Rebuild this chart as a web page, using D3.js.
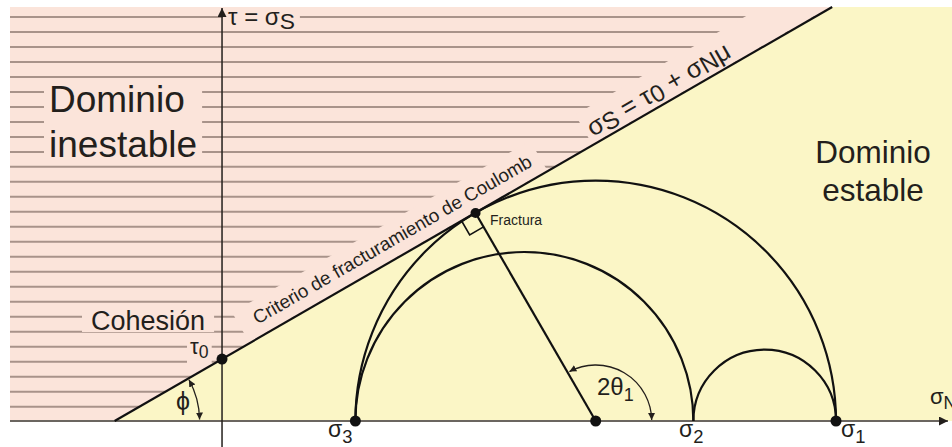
<!DOCTYPE html>
<html>
<head>
<meta charset="utf-8">
<script src="https://cdn.jsdelivr.net/npm/d3@7"></script>
<style>
  body { margin: 0; background: #ffffff; }
  svg { display: block; }
  text { font-family: "Liberation Sans", Arial, Helvetica, sans-serif; fill: #231f1c; }
</style>
</head>
<body>
<svg id="chart" width="952" height="447"></svg>
<script>
// ---- Mohr–Coulomb diagram data (arbitrary stress units) ----
const stressNames = ["σ", "σ", "σ"];
const stressSubs = ["3", "2", "1"];
const stressValues = [2.15, 7.6, 9.9];          // σ3, σ2, σ1
const circlePairs = [[0, 2], [0, 1], [1, 2]];    // Mohr circles as index pairs
const cohesion = [1.0];                          // τ0
const frictionAngleDeg = [30];                   // φ
const sigmaDomain = [-3.58, 11.77];
const tauDomain = [0, 6.68];
const hatchTau = d3.range(27).map(i => 0.23 + i * 0.2419);

const W = 952, H = 447;
const svg = d3.select("#chart");
const x = d3.scaleLinear().domain(sigmaDomain).range([0, W]);
const y = d3.scaleLinear().domain(tauDomain).range([421, 7]);

const pink = "#fbe4da", yellow = "#fbf6c6", hatchColor = "#a8938a";
const tau0 = cohesion[0];
const phi = frictionAngleDeg[0] * Math.PI / 180;
const mu = Math.tan(phi);
const sigmaAt = t => (t - tau0) / mu;
const tauTop = tauDomain[1];
const left = 10;

// background domains
const pinkPoly = [[left, y(tauTop)], [x(sigmaAt(tauTop)), y(tauTop)], [x(sigmaAt(0)), y(0)], [left, y(0)]];
const yellowPoly = [[x(sigmaAt(tauTop)), y(tauTop)], [W, y(tauTop)], [W, y(0)], [x(sigmaAt(0)), y(0)]];
svg.append("path").attr("d", "M" + pinkPoly.join("L") + "Z").attr("fill", pink);
svg.append("path").attr("d", "M" + yellowPoly.join("L") + "Z").attr("fill", yellow);

const defs = svg.append("defs");
defs.append("clipPath").attr("id", "unstable")
  .append("path").attr("d", "M" + pinkPoly.join("L") + "Z");

// hatching of the unstable domain
svg.append("g").selectAll("line").data(hatchTau).join("line")
  .attr("x1", left).attr("x2", t => x(sigmaAt(t)))
  .attr("y1", t => y(t)).attr("y2", t => y(t))
  .attr("stroke", hatchColor).attr("stroke-width", 2);

const halo = svg.append("g").attr("fill", pink);

// frame along the Coulomb line (rotated)
const P0 = [x(0), y(tau0)];
const rotDeg = -frictionAngleDeg[0];
const lineTransform = `translate(${P0[0]},${P0[1]}) rotate(${rotDeg})`;
// label bands above the line, kept inside the unstable domain
const bands = svg.append("g").attr("clip-path", "url(#unstable)")
  .append("g").attr("transform", lineTransform).attr("fill", pink);
bands.append("rect").attr("x", 32).attr("y", -35).attr("width", 344).attr("height", 34);
bands.append("rect").attr("x", 428).attr("y", -35).attr("width", 320).attr("height", 34);

// markers
defs.append("marker").attr("id", "arrow").attr("viewBox", "0 0 10 10")
  .attr("refX", 10).attr("refY", 5).attr("markerWidth", 7).attr("markerHeight", 7)
  .attr("markerUnits", "userSpaceOnUse").attr("orient", "auto-start-reverse")
  .append("path").attr("d", "M0,0L10,5L0,10Z").attr("fill", "#231f1c");
defs.append("marker").attr("id", "axisArrow").attr("viewBox", "0 0 10 10")
  .attr("refX", 10).attr("refY", 5).attr("markerWidth", 9).attr("markerHeight", 9)
  .attr("markerUnits", "userSpaceOnUse").attr("orient", "auto")
  .append("path").attr("d", "M0,0L10,5L0,10Z").attr("fill", "#231f1c");

// axes
svg.append("line").attr("x1", left).attr("x2", W - 4).attr("y1", y(0)).attr("y2", y(0))
  .attr("stroke", "#6b6660").attr("stroke-width", 2).attr("marker-end", "url(#axisArrow)");
svg.append("line").attr("x1", x(0)).attr("x2", x(0)).attr("y1", H).attr("y2", 8)
  .attr("stroke", "#231f1c").attr("stroke-width", 1.5).attr("marker-end", "url(#axisArrow)");

// Coulomb failure envelope
svg.append("line")
  .attr("x1", x(sigmaAt(0))).attr("y1", y(0))
  .attr("x2", x(sigmaAt(tauTop))).attr("y2", y(tauTop))
  .attr("stroke", "#111").attr("stroke-width", 2.2);

// Mohr semicircles
svg.append("g").selectAll("path").data(circlePairs).join("path")
  .attr("d", ([a, b]) => {
    const s1 = stressValues[a], s2 = stressValues[b];
    const r = (x(s2) - x(s1)) / 2;
    return `M${x(s1)},${y(0)}A${r},${r} 0 0 1 ${x(s2)},${y(0)}`;
  })
  .attr("fill", "none").attr("stroke", "#111").attr("stroke-width", 2.2);

// fracture point: tangency of the envelope with the σ3–σ1 circle
const cMid = (stressValues[0] + stressValues[2]) / 2;
const R = (stressValues[2] - stressValues[0]) / 2;
const frac = [cMid - R * Math.sin(phi), R * Math.cos(phi)];
const F = [x(frac[0]), y(frac[1])];
const C = [x(cMid), y(0)];
svg.append("line").attr("x1", C[0]).attr("y1", C[1]).attr("x2", F[0]).attr("y2", F[1])
  .attr("stroke", "#111").attr("stroke-width", 2.2);

// right-angle mark
const ux = Math.cos(phi), uy = -Math.sin(phi);
const rx = Math.sin(phi), ry = Math.cos(phi);
const a = 16;
const sq = [
  [F[0] - a * ux, F[1] - a * uy],
  [F[0] - a * ux + a * rx, F[1] - a * uy + a * ry],
  [F[0] + a * rx, F[1] + a * ry]
];
svg.append("path").attr("d", "M" + sq.join("L")).attr("fill", "none")
  .attr("stroke", "#111").attr("stroke-width", 1.6);

// angle arcs
function arcPath(cx, cy, r, a1, a2) {
  const p = t => [cx + r * Math.cos(t * Math.PI / 180), cy - r * Math.sin(t * Math.PI / 180)];
  const s = p(a1), e = p(a2);
  return `M${s[0]},${s[1]}A${r},${r} 0 0 1 ${e[0]},${e[1]}`;
}
const twoTheta = 90 + frictionAngleDeg[0];
svg.append("path").attr("d", arcPath(C[0], C[1], 56, twoTheta - 2, 1))
  .attr("fill", "none").attr("stroke", "#231f1c").attr("stroke-width", 1.3)
  .attr("marker-start", "url(#arrow)").attr("marker-end", "url(#arrow)");
svg.append("path").attr("d", arcPath(x(sigmaAt(0)), y(0), 85, frictionAngleDeg[0] - 1, 1))
  .attr("fill", "none").attr("stroke", "#231f1c").attr("stroke-width", 1.3)
  .attr("marker-start", "url(#arrow)").attr("marker-end", "url(#arrow)");

// points
const dots = [[0, tau0], [stressValues[0], 0], [cMid, 0], [stressValues[2], 0]];
svg.append("g").selectAll("circle").data(dots).join("circle")
  .attr("cx", d => x(d[0])).attr("cy", d => y(d[1])).attr("r", 5.5).attr("fill", "#111");
svg.append("circle").attr("cx", F[0]).attr("cy", F[1]).attr("r", 5).attr("fill", "#111");

// ---- text ----
function addText(parent, px, py, parts, size, anchor) {
  const t = parent.append("text").attr("x", px).attr("y", py)
    .attr("font-size", size).attr("text-anchor", anchor || "start");
  parts.forEach(p => {
    const ts = t.append("tspan").text(p.t);
    if (p.sub) ts.attr("font-size", size * p.sub).attr("dy", p.dy);
    if (p.back) ts.attr("dy", p.back);
  });
  return t;
}
function haloRect(t, padX, padTop, padBot) {
  const b = t.node().getBBox();
  halo.append("rect").attr("x", b.x - padX).attr("y", b.y - padTop)
    .attr("width", b.width + 2 * padX).attr("height", b.height + padTop + padBot);
}

const labels = svg.append("g");
const lineLabels = svg.append("g").attr("transform", lineTransform);

// axis titles
const tauTitle = addText(labels, x(0) + 6, 25, [{t: "τ = σ"}, {t: "S", sub: 0.95, dy: 4}], 24);
haloRect(tauTitle, 5, -4, -6);
addText(labels, 930, 404, [{t: "σ"}, {t: "N", sub: 0.8, dy: 5}], 22);

// domain names
const uns = labels.append("text").attr("font-size", 37);
uns.append("tspan").attr("x", 49).attr("y", 112).text("Dominio");
uns.append("tspan").attr("x", 49).attr("y", 157).text("inestable");
haloRect(uns, 5, -6, -6);
const st = labels.append("text").attr("font-size", 31.5).attr("text-anchor", "middle");
st.append("tspan").attr("x", 873).attr("y", 163).text("Dominio");
st.append("tspan").attr("x", 873).attr("y", 201).text("estable");

// cohesion
const coh = addText(labels, 91, 330, [{t: "Cohesión"}], 27);
haloRect(coh, 9, -6, -4);
const t0 = addText(labels, 190, 354, [{t: "τ"}, {t: "0", sub: 0.8, dy: 4}], 22);
haloRect(t0, 3, -5, 2);

// principal stress labels
const stressLabelX = [328, 679, 841];
stressValues.forEach((v, i) => {
  addText(labels, stressLabelX[i], 437, [{t: stressNames[i]}, {t: stressSubs[i], sub: 0.8, dy: 6}], 23);
});

// angle labels
addText(labels, 176, 410, [{t: "ϕ"}], 25);
addText(labels, 597, 395, [{t: "2θ"}, {t: "1", sub: 0.75, dy: 6}], 24);

// fracture label
addText(labels, 490, 225, [{t: "Fractura"}], 14);

// labels along the envelope
addText(lineLabels, 48, -12, [{t: "Criterio de fracturamiento de Coulomb"}], 18.8);
addText(lineLabels, 432, -7, [
  {t: "σ"}, {t: "S", sub: 0.95, dy: 3}, {t: " = τ", back: -3}, {t: "0", sub: 0.95, dy: 3},
  {t: " + σ", back: -3}, {t: "N", sub: 0.95, dy: 2}, {t: "μ", back: -2}
], 25.5);
</script>
</body>
</html>
